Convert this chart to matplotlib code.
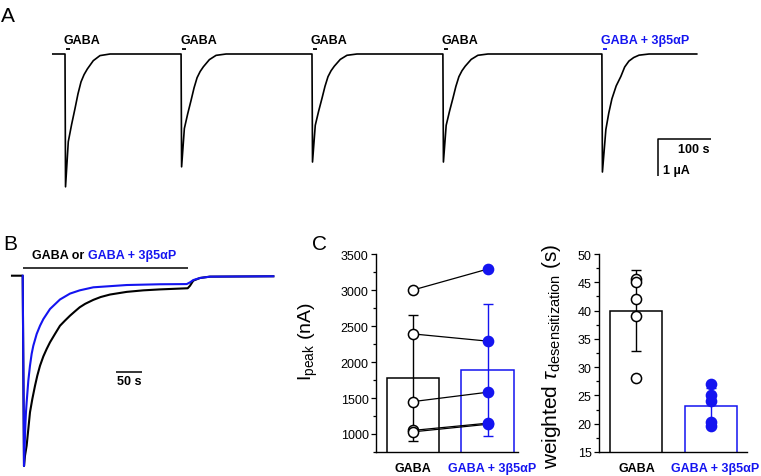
import numpy as np
import matplotlib
matplotlib.use("Agg")
import matplotlib.pyplot as plt
from matplotlib.ticker import MultipleLocator

plt.rcParams['font.family'] = ['Liberation Sans', 'DejaVu Sans']
plt.rcParams['mathtext.fontset'] = 'custom'
plt.rcParams['mathtext.rm'] = 'Liberation Sans'
plt.rcParams['mathtext.it'] = 'Liberation Sans:italic'
plt.rcParams['mathtext.bf'] = 'Liberation Sans:bold'

BLUE = '#1414f0'

# ---------------- data ----------------
# Panel A: five sweeps (onset time in s, peak current in uA)
sweep_onsets_s = [0, 219, 466, 713, 1013]
sweep_peaks_uA = [-3.59, -3.05, -2.92, -2.92, -3.19]
sweep_labels = ["GABA", "GABA", "GABA", "GABA", "GABA + 3\u03b25\u03b1P"]
sweep_is_mod = [False, False, False, False, True]
trace_start_s = -23
trace_end_s = 1192
# decay shapes (time after onset, fraction of peak)
gaba_shape_t = [0, 1, 6.2, 12.5, 18.9, 24.5, 30.2, 36, 42.1, 53.4, 66, 85]
gaba_shape_f = [0, 1, 0.66, 0.53, 0.41, 0.30, 0.21, 0.155, 0.113, 0.05, 0.012, 0]
mod_shape_t = [0, 1, 7.5, 13, 18.9, 27, 35.8, 43, 51, 60, 70, 89]
mod_shape_f = [0, 1, 0.64, 0.50, 0.38, 0.27, 0.19, 0.11, 0.06, 0.03, 0.01, 0]

# Panel B: normalized superimposed traces
b_gaba_t = [-20.6, 0, 2.5, 4.4, 7.6, 10.8, 14.0, 18.5, 23.7, 28.1, 33.3, 39.7,
            46.1, 52.5, 62.1, 71.7, 81.3, 91.0, 100.6, 109.6, 120, 135.8, 150,
            167.9, 200, 231.9, 264, 317.3, 321.7, 328, 341, 360, 482]
b_gaba_i = [0, 0, -1, -0.946, -0.893, -0.806, -0.718, -0.648, -0.578, -0.525,
            -0.473, -0.424, -0.385, -0.350, -0.306, -0.263, -0.236, -0.210,
            -0.187, -0.166, -0.148, -0.127, -0.112, -0.099, -0.085, -0.077,
            -0.072, -0.066, -0.053, -0.026, -0.012, -0.005, -0.003]
b_mod_t = [0, 2.5, 3.8, 5.1, 6.3, 7.6, 10.8, 14.0, 17.2, 20.4, 26.9, 33.3, 39.7,
           52.5, 71.7, 91.0, 109.6, 135.8, 200, 264, 315.4, 321.7, 328, 341,
           360, 482]
b_mod_i = [0, -1, -0.893, -0.788, -0.718, -0.665, -0.552, -0.473, -0.411,
           -0.368, -0.306, -0.263, -0.228, -0.175, -0.125, -0.094, -0.077,
           -0.061, -0.049, -0.045, -0.044, -0.035, -0.023, -0.012, -0.005, -0.003]

# Panel C
categories = ["GABA", "GABA + 3\u03b25\u03b1P"]
ipeak_gaba = [3000, 2390, 1450, 1050, 1030]
ipeak_mod = [3290, 2290, 1580, 1150, 1135]
ipeak_mean = [1784, 1889]
ipeak_sd = [875, 913]
tau_gaba = [45.6, 45.1, 42.0, 39.1, 28.1]
tau_mod = [27.0, 25.0, 24.0, 20.3, 19.6]
tau_mean = [40.0, 23.2]
tau_sd = [7.1, 3.2]

# ---------------- figure ----------------
W, H = 761, 477
fig = plt.figure(figsize=(W / 100, H / 100), dpi=100)
FS = 9


def box(x0, y0, x1, y1):
    return [x0 / W, 1 - y1 / H, (x1 - x0) / W, (y1 - y0) / H]


# ---- Panel A ----
axA = fig.add_axes(box(0, 0, W, 200))
axA.set_axis_off()
pxs, pyA = 0.53, 37.0  # px per s, px per uA
x0A, y0A = 65, 55
axA.set_xlim((0 - x0A) / pxs, (W - x0A) / pxs)
axA.set_ylim(-(200 - y0A) / pyA, y0A / pyA)

tt = [trace_start_s]
ii = [0.0]
for on, pk, mod in zip(sweep_onsets_s, sweep_peaks_uA, sweep_is_mod):
    st, sf = (mod_shape_t, mod_shape_f) if mod else (gaba_shape_t, gaba_shape_f)
    for t, f in zip(st, sf):
        tt.append(on + t)
        ii.append(pk * f)
tt.append(trace_end_s)
ii.append(0.0)
axA.plot(tt, ii, color='black', lw=1.2, solid_joinstyle='round')

for on, lab, mod in zip(sweep_onsets_s, sweep_labels, sweep_is_mod):
    c = BLUE if mod else 'black'
    axA.text(on - 2, 0.284, lab, color=c, fontsize=FS, fontweight='bold',
             ha='left', va='baseline')
    axA.plot([on + 1.5, on + 9], [0.135, 0.135], color=c, lw=1.3,
             solid_capstyle='butt')

# scale bar A
sb_x0 = (658 - x0A) / pxs
sb_y0 = (y0A - 140) / pyA
axA.plot([sb_x0 + 100, sb_x0, sb_x0], [sb_y0, sb_y0, sb_y0 - 1], color='black',
         lw=1.1, solid_capstyle='butt')
axA.text((710 - x0A) / pxs, (y0A - 153) / pyA, "100 s", fontsize=FS,
         fontweight='bold', ha='right', va='baseline')
axA.text((663 - x0A) / pxs, (y0A - 174) / pyA, "1 \u00b5A", fontsize=FS,
         fontweight='bold', ha='left', va='baseline')

# ---- Panel B ----
axB = fig.add_axes(box(0, 240, 300, H))
axB.set_axis_off()
pxsB, pyB = 0.52, 190.3
x0B, y0B = 22.7, 276.7
axB.set_xlim((0 - x0B) / pxsB, (300 - x0B) / pxsB)
axB.set_ylim(-(H - y0B) / pyB, (y0B - 240) / pyB)
axB.plot(b_gaba_t, b_gaba_i, color='black', lw=1.5, zorder=2,
         solid_joinstyle='round')
axB.plot(b_mod_t, b_mod_i, color=BLUE, lw=1.5, zorder=3, solid_joinstyle='round')
axB.plot([0.6, 317], [0.039, 0.039], color='black', lw=1.1, solid_capstyle='butt')
t1 = axB.text((32 - x0B) / pxsB, (y0B - 259) / pyB, "GABA or", fontsize=FS,
              fontweight='bold', ha='left', va='baseline')
axB.annotate("GABA + 3\u03b25\u03b1P", xy=(1, 0), xycoords=t1, xytext=(2.5, 0),
             textcoords='offset points', fontsize=FS, fontweight='bold',
             color=BLUE, ha='left', va='bottom')
axB.plot([(116 - x0B) / pxsB, (142 - x0B) / pxsB], [(y0B - 373) / pyB] * 2,
         color='black', lw=1.1, solid_capstyle='butt')
axB.text((129 - x0B) / pxsB, (y0B - 376) / pyB, "50 s", fontsize=FS,
         fontweight='bold', ha='center', va='top')

# panel letters
fig.text(1 / W, 1 - 22 / H, "A", fontsize=15, ha='left', va='baseline')
fig.text(3 / W, 1 - 250 / H, "B", fontsize=15, ha='left', va='baseline')
fig.text(312 / W, 1 - 250 / H, "C", fontsize=15, ha='left', va='baseline')


def style_axis(ax):
    for s in ['top', 'right']:
        ax.spines[s].set_visible(False)
    for s in ['left', 'bottom']:
        ax.spines[s].set_linewidth(1.0)
    ax.tick_params(axis='y', which='major', direction='out', length=3.8,
                   width=0.9, labelsize=9, pad=1.5)
    ax.tick_params(axis='y', which='minor', direction='out', length=2.2, width=0.9)
    ax.tick_params(axis='x', which='both', bottom=False, labelbottom=False)


# ---- Panel C left ----
axC1 = fig.add_axes(box(376, 255, 518, 453))
style_axis(axC1)
xpos = [0, 1]
axC1.set_xlim(-0.497, 1.409)
axC1.set_ylim(750, 3500)
axC1.yaxis.set_major_locator(MultipleLocator(500))
axC1.yaxis.set_minor_locator(MultipleLocator(250))
axC1.set_yticks([1000, 1500, 2000, 2500, 3000, 3500])
axC1.bar(xpos, ipeak_mean, width=0.70, bottom=0, color='white',
         edgecolor=['black', BLUE], linewidth=1.1, zorder=1)
for x, m, s, c in zip(xpos, ipeak_mean, ipeak_sd, ['black', BLUE]):
    axC1.errorbar([x], [m], yerr=[s], color=c, capsize=3.5, capthick=1.0,
                  elinewidth=1.0, fmt='none', zorder=2)
for a, b in zip(ipeak_gaba, ipeak_mod):
    axC1.plot([0, 1], [a, b], color='black', lw=0.9, zorder=3)
axC1.plot([0] * len(ipeak_gaba), ipeak_gaba, 'o', ms=7.3, mfc='white', mec='black',
          mew=1.1, zorder=4, clip_on=False)
axC1.plot([1] * len(ipeak_mod), ipeak_mod, 'o', ms=7.3, mfc=BLUE, mec=BLUE,
          mew=1.1, zorder=4, clip_on=False)
axC1.set_ylabel("I$_{\\mathrm{peak}}$ (nA)", fontsize=14)
axC1.yaxis.set_label_coords(-0.394, 0.56)
axC1.text(0, -0.05, categories[0], transform=axC1.get_xaxis_transform(),
          ha='center', va='top', fontsize=FS, fontweight='bold', color='black')
axC1.text(1.06, -0.05, categories[1], transform=axC1.get_xaxis_transform(),
          ha='center', va='top', fontsize=FS, fontweight='bold', color=BLUE)

# ---- Panel C right ----
axC2 = fig.add_axes(box(599, 255, 747, 453))
style_axis(axC2)
axC2.set_xlim(-0.493, 1.48)
axC2.set_ylim(15, 50)
axC2.yaxis.set_major_locator(MultipleLocator(5))
axC2.yaxis.set_minor_locator(MultipleLocator(2.5))
axC2.bar(xpos, tau_mean, width=0.70, bottom=0, color='white',
         edgecolor=['black', BLUE], linewidth=1.1, zorder=1)
for x, m, s, c in zip(xpos, tau_mean, tau_sd, ['black', BLUE]):
    axC2.errorbar([x], [m], yerr=[s], color=c, capsize=3.5, capthick=1.0,
                  elinewidth=1.0, fmt='none', zorder=2)
axC2.plot([0] * len(tau_gaba), tau_gaba, 'o', ms=7.3, mfc='white', mec='black',
          mew=1.1, zorder=4, clip_on=False)
axC2.plot([1] * len(tau_mod), tau_mod, 'o', ms=7.3, mfc=BLUE, mec=BLUE,
          mew=1.1, zorder=4, clip_on=False)
axC2.set_ylabel("weighted $\\tau$$_{\\mathrm{desensitization}}$ (s)", fontsize=15)
axC2.yaxis.set_label_coords(-0.243, 0.49)
axC2.text(0.01, -0.05, categories[0], transform=axC2.get_xaxis_transform(),
          ha='center', va='top', fontsize=FS, fontweight='bold', color='black')
axC2.text(1.05, -0.05, categories[1], transform=axC2.get_xaxis_transform(),
          ha='center', va='top', fontsize=FS, fontweight='bold', color=BLUE)

fig.savefig("out.png", dpi=100)
